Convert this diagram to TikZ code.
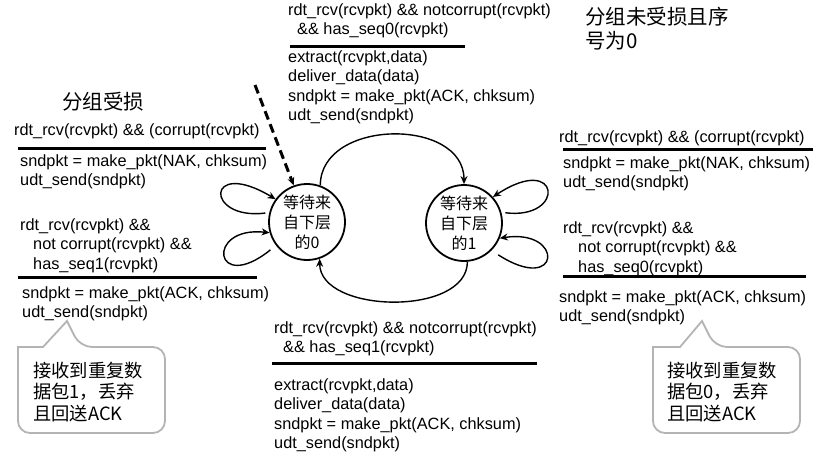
\documentclass[tikz,border=0pt]{standalone}
\usepackage{fontspec}
\setmainfont{Liberation Sans}
\newfontfamily\cjk{Noto Sans CJK SC}
\usepackage{tikz}
\usetikzlibrary{arrows.meta}
\definecolor{bubblegray}{HTML}{B4B4B4}
\tikzset{%
    >={Stealth[length=8pt,width=7pt]},
    state/.style={draw, circle, line width=1.8pt, minimum size=76pt, inner sep=0pt, align=center, font={\cjk\fontsize{16}{20}\selectfont}},
    trans/.style={->, line width=1.4pt},
    pkttext/.style={anchor=base west, inner sep=0pt, align=left, font={\fontsize{16.3}{19.5}\selectfont}},
    notetext/.style={anchor=base west, inner sep=0pt, align=left, font={\cjk\fontsize{20.5}{24}\selectfont}},
    bubbletext/.style={anchor=base west, inner sep=0pt, align=left, font={\cjk\fontsize{18.3}{21.5}\selectfont}},
    bubbleline/.style={draw=bubblegray, line width=1.8pt, fill=white}
}
\newcommand\GuardRule[3]{%
    \draw[line width=3pt] (#1,#3) -- (#2,#3)
}

\begin{document}
\begin{tikzpicture}[x=1pt,y=-1pt]
      \useasboundingbox (0,0) rectangle (822,453);

      \node[state] (s0) at (307,222) {等待来\\自下层\\的0};
      \node[state] (s1) at (464,223) {等待来\\自下层\\的1};
      \coordinate (init) at (255,85);

      \node[pkttext] (g01) at (288,34.5) {rdt\_rcv(rcvpkt) \&\& notcorrupt(rcvpkt)\\\hspace*{9pt}\&\& has\_seq0(rcvpkt)};
      \GuardRule{290}{465}{46};
      \node[pkttext] (a01) at (288,120.5) {extract(rcvpkt,data)\\deliver\_data(data)\\sndpkt = make\_pkt(ACK, chksum)\\udt\_send(sndpkt)};

      \node[pkttext] (g10) at (274,352.5) {rdt\_rcv(rcvpkt) \&\& notcorrupt(rcvpkt)\\\hspace*{9pt}\&\& has\_seq1(rcvpkt)};
      \GuardRule{272}{537}{363};
      \node[pkttext] (a10) at (274,448.5) {extract(rcvpkt,data)\\deliver\_data(data)\\sndpkt = make\_pkt(ACK, chksum)\\udt\_send(sndpkt)};

      \node[notetext] (n0) at (62,109) {分组受损};
      \node[pkttext] (g00a) at (14,135) {rdt\_rcv(rcvpkt) \&\& (corrupt(rcvpkt)};
      \GuardRule{18}{266}{148};
      \node[pkttext] (a00a) at (20,185.5) {sndpkt = make\_pkt(NAK, chksum)\\udt\_send(sndpkt)};
      \node[pkttext] (g00b) at (20,269) {rdt\_rcv(rcvpkt) \&\&\\\hspace*{13pt}not corrupt(rcvpkt) \&\&\\\hspace*{13pt}has\_seq1(rcvpkt)};
      \GuardRule{18}{257}{277};
      \node[pkttext] (a00b) at (22,317.5) {sndpkt = make\_pkt(ACK, chksum)\\udt\_send(sndpkt)};

      \node[notetext] (n1) at (585,48.4) {分组未受损且序\\号为0};
      \node[pkttext] (g11a) at (559,142) {rdt\_rcv(rcvpkt) \&\& (corrupt(rcvpkt)};
      \GuardRule{563}{813}{149};
      \node[pkttext] (a11a) at (563,187.5) {sndpkt = make\_pkt(NAK, chksum)\\udt\_send(sndpkt)};
      \node[pkttext] (g11b) at (563,272) {rdt\_rcv(rcvpkt) \&\&\\\hspace*{15pt}not corrupt(rcvpkt) \&\&\\\hspace*{15pt}has\_seq0(rcvpkt)};
      \GuardRule{563}{806}{276};
      \node[pkttext] (a11b) at (559,321.5) {sndpkt = make\_pkt(ACK, chksum)\\udt\_send(sndpkt)};

      \draw[bubbleline] (43,347) -- (18,347) [rounded corners=12pt] -- (18,433) -- (165,433) -- (165,347) -- (80,347) [sharp corners] -- (67,321) -- cycle;
      \node[bubbletext] (b0) at (33,420) {接收到重复数\\据包1，丢弃\\且回送ACK};
      \draw[bubbleline] (680,347) -- (653,347) [rounded corners=12pt] -- (653,433) -- (800,433) -- (800,347) -- (715,347) [sharp corners] -- (702,321) -- cycle;
      \node[bubbletext] (b1) at (667,420) {接收到重复数\\据包0，丢弃\\且回送ACK};

      \draw[trans] (s0.70) .. controls +(0,-67) and +(0,-67) .. (s1.north);
      \draw[trans] (s1.-85) .. controls +(0,55) and +(0,55) .. (s0.-71);
      \draw[trans, shorten <=4pt] (s0.166) .. controls +(-65,8) and +(-70,-42) .. (s0.144);
      \draw[trans, shorten <=7pt] (s0.217) .. controls +(-62,50) and +(-65,-7) .. (s0.196);
      \draw[trans, shorten <=4pt] (s1.16) .. controls +(65,8) and +(68,-45) .. (s1.42);
      \draw[trans, shorten <=8pt] (s1.315) .. controls +(70,45) and +(65,-10) .. (s1.337);
      \draw[trans, line width=3pt, dash pattern=on 9pt off 5pt] (init) -- (s0.110);
    \end{tikzpicture}
\end{document}
